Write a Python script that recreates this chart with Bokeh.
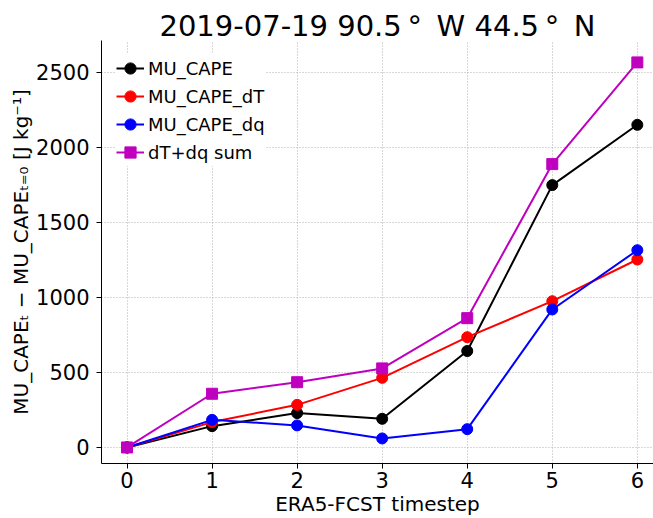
from bokeh.plotting import figure
from bokeh.models import Range1d, FixedTicker, Legend, LegendItem
from bokeh.embed import file_html
from bokeh.resources import INLINE

timesteps = [0, 1, 2, 3, 4, 5, 6]
mu_cape = [0, 142, 229, 191, 643, 1749, 2151]
mu_cape_dT = [0, 169, 284, 464, 735, 975, 1253]
mu_cape_dq = [0, 184, 147, 60, 122, 920, 1315]
dT_dq_sum = [0, 358, 435, 527, 862, 1889, 2567]

x_ticks = [0, 1, 2, 3, 4, 5, 6]
y_ticks = [0, 500, 1000, 1500, 2000, 2500]

FONT = "DejaVu Sans"

p = figure(width=653, height=518, output_backend="svg", toolbar_location=None,
           x_range=Range1d(-0.3, 6.19), y_range=Range1d(-107, 2713),
           min_border_left=101, min_border_right=0, min_border_top=40,
           min_border_bottom=53,
           title="2019-07-19 90.5\u2009°\u2002W 44.5\u2009°\u2002N")

p.title.text_font = FONT
p.title.text_font_size = "29px"
p.title.text_font_style = "normal"
p.title.align = "center"
p.title.text_color = "black"
p.title.standoff = -4
p.title.offset = 5
p.outline_line_color = None
p.background_fill_color = "white"
p.border_fill_color = "white"

for ax in (p.xaxis[0], p.yaxis[0]):
    ax.major_label_text_font = FONT
    ax.major_label_text_font_size = "21px"
    ax.major_label_text_color = "black"
    ax.axis_label_text_font = FONT
    ax.axis_label_text_font_size = "20px"
    ax.axis_label_text_font_style = "normal"
    ax.axis_label_text_color = "black"
    ax.major_tick_out = 5
    ax.major_tick_in = 0
    ax.minor_tick_out = 0
    ax.minor_tick_in = 0
    ax.axis_line_color = "black"
    ax.major_tick_line_color = "black"

p.xaxis.ticker = FixedTicker(ticks=x_ticks)
p.yaxis.ticker = FixedTicker(ticks=y_ticks)
p.xaxis.axis_label = "ERA5-FCST timestep"
p.yaxis.axis_label = "MU_CAPEₜ − MU_CAPEₜ₌₀ [J kg⁻¹]"
p.xaxis.major_label_standoff = 3
p.xaxis.axis_label_standoff = 1
p.xaxis.axis_label_text_line_height = 0.7
p.xaxis.major_label_text_line_height = 0.7
p.yaxis.major_label_standoff = 7
p.yaxis.axis_label_standoff = 0

p.grid.grid_line_color = "#b0b0b0"
p.grid.grid_line_dash = "1 2"
p.grid.grid_line_width = 1

series = [
    ("MU_CAPE", mu_cape, "black", "circle"),
    ("MU_CAPE_dT", mu_cape_dT, "#ff0000", "circle"),
    ("MU_CAPE_dq", mu_cape_dq, "#0000ff", "circle"),
    ("dT+dq sum", dT_dq_sum, "#bf00bf", "square"),
]

items = []
for name, vals, col, mk in series:
    l = p.line(timesteps, vals, line_color=col, line_width=2)
    s = p.scatter(timesteps, vals, marker=mk, size=11, fill_color=col, line_color=col)
    items.append(LegendItem(label=name, renderers=[l, s]))

legend = Legend(items=items, location=(15, 297))
legend.label_text_font = FONT
legend.label_text_font_size = "18px"
legend.label_text_color = "black"
legend.glyph_width = 28
legend.glyph_height = 28
legend.label_height = 28
legend.spacing = 0
legend.label_standoff = 4
legend.margin = 0
legend.padding = 7
legend.border_line_color = None
legend.background_fill_color = "white"
legend.background_fill_alpha = 1.0
p.add_layout(legend)

open("out.html", "w").write(file_html(p, INLINE))
